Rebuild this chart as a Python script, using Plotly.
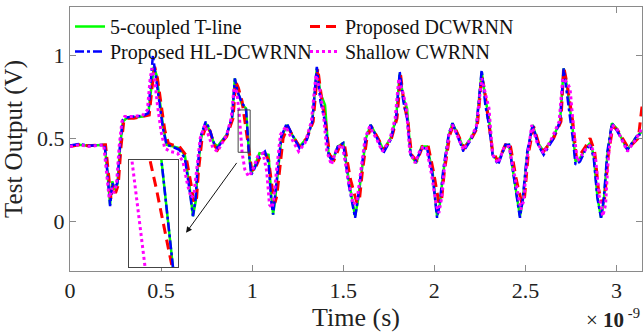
import plotly.graph_objects as go

# ---------------- data (time in ns, output in V) ----------------
green_t = [0, 0.05, 0.10, 0.15, 0.19, 0.205, 0.22, 0.232, 0.245, 0.26, 0.275, 0.29, 0.31, 0.35, 0.40, 0.43, 0.445, 0.46, 0.475, 0.49,
           0.51, 0.53, 0.56, 0.60, 0.63, 0.655, 0.675, 0.69, 0.70, 0.72, 0.745, 0.765, 0.79, 0.81, 0.83, 0.86, 0.89, 0.905, 0.92, 0.945,
           0.966, 0.983, 0.995, 1.01, 1.04, 1.09, 1.105, 1.115, 1.125, 1.14, 1.16, 1.19, 1.22, 1.26, 1.30, 1.33, 1.355, 1.375, 1.40, 1.42,
           1.44, 1.47, 1.50, 1.53, 1.565, 1.58, 1.60, 1.625, 1.65, 1.69, 1.72, 1.76, 1.79, 1.81, 1.83, 1.85, 1.87, 1.90, 1.93, 1.96,
           1.99, 2.015, 2.03, 2.05, 2.08, 2.10, 2.13, 2.16, 2.20, 2.23, 2.26, 2.28, 2.30, 2.32, 2.35, 2.39, 2.41, 2.44, 2.47, 2.485,
           2.51, 2.54, 2.57, 2.60, 2.65, 2.69, 2.71, 2.73, 2.76, 2.775, 2.80, 2.83, 2.855, 2.875, 2.895, 2.915, 2.93, 2.95, 2.975, 3.00,
           3.06, 3.11, 3.14]
green_v = [0.455, 0.46, 0.455, 0.46, 0.46, 0.30, 0.10, 0.24, 0.19, 0.22, 0.45, 0.60, 0.62, 0.625, 0.63, 0.65, 0.80, 0.93, 0.88, 0.75,
           0.58, 0.46, 0.45, 0.44, 0.40, 0.22, 0.03, 0.12, 0.30, 0.50, 0.59, 0.55, 0.47, 0.45, 0.48, 0.52, 0.62, 0.86, 0.78, 0.70,
           0.68, 0.40, 0.29, 0.32, 0.41, 0.40, 0.15, 0.04, 0.12, 0.30, 0.50, 0.58, 0.52, 0.45, 0.50, 0.60, 0.92, 0.77, 0.70, 0.40,
           0.36, 0.45, 0.47, 0.25, 0.03, 0.12, 0.30, 0.50, 0.58, 0.50, 0.43, 0.50, 0.62, 0.89, 0.74, 0.68, 0.40, 0.35, 0.45, 0.45,
           0.30, 0.03, 0.10, 0.30, 0.52, 0.59, 0.52, 0.44, 0.50, 0.56, 0.90, 0.74, 0.62, 0.40, 0.36, 0.45, 0.46, 0.25, 0.03, 0.12,
           0.40, 0.58, 0.47, 0.42, 0.50, 0.60, 0.92, 0.80, 0.55, 0.36, 0.38, 0.44, 0.47, 0.40, 0.15, 0.02, 0.12, 0.40, 0.59, 0.56,
           0.43, 0.51, 0.54]

blue_t = [0, 0.05, 0.10, 0.15, 0.19, 0.205, 0.22, 0.232, 0.245, 0.26, 0.275, 0.29, 0.31, 0.35, 0.40, 0.43, 0.445, 0.455, 0.47, 0.49,
          0.51, 0.53, 0.56, 0.60, 0.63, 0.655, 0.675, 0.69, 0.70, 0.72, 0.745, 0.765, 0.79, 0.81, 0.83, 0.86, 0.89, 0.905, 0.92, 0.945,
          0.966, 0.983, 0.995, 1.01, 1.04, 1.07, 1.09, 1.105, 1.115, 1.125, 1.14, 1.16, 1.19, 1.22, 1.26, 1.30, 1.33, 1.355, 1.375, 1.40,
          1.42, 1.44, 1.47, 1.50, 1.53, 1.565, 1.58, 1.60, 1.625, 1.65, 1.69, 1.72, 1.76, 1.79, 1.81, 1.83, 1.85, 1.87, 1.90, 1.93,
          1.96, 1.99, 2.015, 2.03, 2.05, 2.08, 2.10, 2.13, 2.16, 2.20, 2.23, 2.26, 2.28, 2.30, 2.32, 2.35, 2.39, 2.41, 2.44, 2.47,
          2.485, 2.51, 2.54, 2.57, 2.60, 2.65, 2.69, 2.71, 2.73, 2.76, 2.775, 2.80, 2.83, 2.855, 2.875, 2.895, 2.915, 2.93, 2.95, 2.975,
          3.00, 3.06, 3.11, 3.14]
blue_v = [0.455, 0.465, 0.455, 0.46, 0.46, 0.30, 0.09, 0.23, 0.20, 0.23, 0.46, 0.61, 0.625, 0.63, 0.635, 0.65, 0.85, 1.00, 0.88, 0.72,
          0.56, 0.46, 0.45, 0.43, 0.38, 0.20, 0.03, 0.14, 0.32, 0.52, 0.60, 0.56, 0.47, 0.44, 0.47, 0.52, 0.63, 0.86, 0.78, 0.71,
          0.68, 0.40, 0.28, 0.31, 0.39, 0.42, 0.35, 0.12, 0.04, 0.14, 0.32, 0.51, 0.59, 0.52, 0.44, 0.49, 0.60, 0.93, 0.72, 0.60,
          0.40, 0.36, 0.45, 0.47, 0.22, 0.02, 0.13, 0.32, 0.51, 0.58, 0.49, 0.41, 0.49, 0.62, 0.90, 0.72, 0.62, 0.40, 0.36, 0.44,
          0.44, 0.28, 0.02, 0.11, 0.32, 0.53, 0.59, 0.51, 0.42, 0.49, 0.56, 0.91, 0.70, 0.58, 0.40, 0.34, 0.46, 0.46, 0.23, 0.02,
          0.13, 0.42, 0.58, 0.46, 0.40, 0.49, 0.60, 0.92, 0.75, 0.50, 0.34, 0.36, 0.43, 0.46, 0.38, 0.14, 0.02, 0.13, 0.42, 0.59,
          0.55, 0.43, 0.51, 0.53]

red_t = [0, 0.05, 0.10, 0.15, 0.195, 0.21, 0.225, 0.235, 0.25, 0.265, 0.28, 0.295, 0.31, 0.35, 0.40, 0.435, 0.45, 0.465, 0.48, 0.50,
         0.52, 0.54, 0.56, 0.60, 0.635, 0.665, 0.68, 0.695, 0.705, 0.725, 0.75, 0.77, 0.79, 0.81, 0.83, 0.86, 0.895, 0.91, 0.925, 0.945,
         0.96, 0.975, 0.985, 0.995, 1.01, 1.04, 1.07, 1.09, 1.11, 1.125, 1.135, 1.15, 1.17, 1.195, 1.225, 1.26, 1.30, 1.335, 1.36, 1.38,
         1.40, 1.425, 1.45, 1.48, 1.505, 1.54, 1.575, 1.59, 1.605, 1.63, 1.655, 1.695, 1.725, 1.765, 1.795, 1.815, 1.835, 1.855, 1.875, 1.905,
         1.935, 1.965, 1.995, 2.025, 2.04, 2.055, 2.085, 2.105, 2.135, 2.165, 2.205, 2.235, 2.26, 2.275, 2.295, 2.32, 2.35, 2.39, 2.415, 2.45,
         2.48, 2.495, 2.515, 2.545, 2.575, 2.60, 2.655, 2.695, 2.71, 2.73, 2.76, 2.78, 2.80, 2.83, 2.855, 2.88, 2.90, 2.92, 2.935, 2.955,
         2.98, 3.005, 3.065, 3.12, 3.14]
red_v = [0.45, 0.46, 0.455, 0.46, 0.46, 0.30, 0.13, 0.22, 0.17, 0.22, 0.45, 0.60, 0.62, 0.62, 0.63, 0.64, 0.80, 0.93, 0.86, 0.70,
         0.55, 0.47, 0.46, 0.45, 0.40, 0.22, 0.11, 0.14, 0.30, 0.50, 0.58, 0.54, 0.46, 0.43, 0.47, 0.51, 0.62, 0.84, 0.80, 0.72,
         0.60, 0.47, 0.38, 0.33, 0.30, 0.38, 0.41, 0.37, 0.20, 0.11, 0.15, 0.32, 0.50, 0.57, 0.51, 0.45, 0.50, 0.60, 0.92, 0.75,
         0.62, 0.40, 0.37, 0.45, 0.47, 0.25, 0.11, 0.14, 0.30, 0.50, 0.57, 0.49, 0.43, 0.50, 0.62, 0.88, 0.70, 0.60, 0.40, 0.36,
         0.45, 0.46, 0.30, 0.11, 0.13, 0.30, 0.52, 0.58, 0.51, 0.44, 0.50, 0.56, 0.87, 0.80, 0.62, 0.42, 0.36, 0.46, 0.47, 0.25,
         0.11, 0.14, 0.40, 0.57, 0.46, 0.42, 0.50, 0.60, 0.93, 0.82, 0.60, 0.38, 0.40, 0.45, 0.50, 0.42, 0.20, 0.11, 0.14, 0.40,
         0.57, 0.55, 0.44, 0.50, 0.69]

magenta_t = [0, 0.05, 0.10, 0.15, 0.185, 0.20, 0.215, 0.23, 0.24, 0.255, 0.27, 0.285, 0.30, 0.35, 0.40, 0.425, 0.44, 0.45, 0.465, 0.48,
             0.50, 0.52, 0.55, 0.59, 0.62, 0.645, 0.665, 0.68, 0.695, 0.715, 0.74, 0.76, 0.785, 0.81, 0.83, 0.86, 0.885, 0.90, 0.915, 0.927,
             0.945, 0.96, 0.98, 1.00, 1.03, 1.06, 1.08, 1.095, 1.11, 1.12, 1.135, 1.155, 1.185, 1.215, 1.255, 1.29, 1.325, 1.35, 1.37, 1.39,
             1.41, 1.435, 1.465, 1.495, 1.525, 1.555, 1.575, 1.595, 1.62, 1.645, 1.685, 1.715, 1.755, 1.785, 1.805, 1.825, 1.845, 1.865, 1.895, 1.925,
             1.955, 1.985, 2.01, 2.025, 2.04, 2.055, 2.08, 2.10, 2.13, 2.16, 2.20, 2.23, 2.26, 2.28, 2.30, 2.32, 2.35, 2.385, 2.41, 2.445,
             2.475, 2.49, 2.51, 2.535, 2.565, 2.60, 2.645, 2.685, 2.705, 2.725, 2.745, 2.765, 2.785, 2.81, 2.835, 2.86, 2.885, 2.905, 2.925, 2.94,
             2.955, 2.975, 3.00, 3.06, 3.11, 3.14]
magenta_v = [0.45, 0.46, 0.45, 0.455, 0.46, 0.30, 0.14, 0.20, 0.17, 0.22, 0.45, 0.60, 0.63, 0.63, 0.64, 0.67, 0.86, 0.92, 0.85, 0.70,
             0.54, 0.44, 0.42, 0.41, 0.36, 0.22, 0.14, 0.16, 0.32, 0.50, 0.58, 0.52, 0.44, 0.42, 0.46, 0.52, 0.62, 0.80, 0.78, 0.67,
             0.41, 0.31, 0.27, 0.30, 0.39, 0.41, 0.30, 0.10, 0.08, 0.15, 0.32, 0.52, 0.57, 0.50, 0.42, 0.47, 0.60, 0.88, 0.80, 0.66,
             0.42, 0.34, 0.44, 0.46, 0.26, 0.10, 0.12, 0.30, 0.50, 0.57, 0.49, 0.42, 0.49, 0.62, 0.86, 0.78, 0.70, 0.42, 0.35, 0.44,
             0.45, 0.28, 0.10, 0.05, 0.14, 0.32, 0.52, 0.58, 0.51, 0.43, 0.50, 0.57, 0.86, 0.77, 0.68, 0.40, 0.35, 0.45, 0.45, 0.25,
             0.07, 0.12, 0.38, 0.58, 0.47, 0.41, 0.50, 0.60, 0.86, 0.84, 0.80, 0.55, 0.36, 0.40, 0.44, 0.46, 0.38, 0.15, 0.03, 0.10,
             0.38, 0.58, 0.56, 0.42, 0.50, 0.56]

series_names = ["5-coupled T-line", "Proposed DCWRNN", "Proposed HL-DCWRNN", "Shallow CWRNN"]
x_ticks = [0, 0.5, 1, 1.5, 2, 2.5, 3]
y_ticks = [0, 0.5, 1]
zoom_x = [0.923, 0.989]
zoom_y = [0.415, 0.67]

# ---------------- figure ----------------
FONT = "Liberation Serif"
styles = [
    dict(color="#00ff00", width=2.5, dash="solid"),
    dict(color="#ff0000", width=3, dash="10px,6px"),
    dict(color="#0000ff", width=2.5, dash="dashdot"),
    dict(color="#ff00ff", width=3, dash="dot"),
]
legend_ids = ["legend", "legend", "legend2", "legend2"]
data = [(green_t, green_v), (red_t, red_v), (blue_t, blue_v), (magenta_t, magenta_v)]

fig = go.Figure()
for (t, v), name, st, lg in zip(data, series_names, styles, legend_ids):
    fig.add_trace(go.Scatter(x=t, y=v, mode="lines", name=name, line=st, legend=lg))
for (t, v), name, st in zip(data, series_names, styles):
    fig.add_trace(go.Scatter(x=t, y=v, mode="lines", name=name, line=st,
                             xaxis="x2", yaxis="y2", showlegend=False))

axis_common = dict(showline=True, linecolor="#8a8a8a", linewidth=1, mirror="ticks",
                   ticks="inside", ticklen=6, tickcolor="#8a8a8a", showgrid=False, zeroline=False,
                   tickfont=dict(family=FONT, size=22, color="#222"))

legend_common = dict(orientation="h", xanchor="left", yanchor="top", entrywidth=190,
                     borderwidth=0, font=dict(family=FONT, size=20, color="#111"),
                     itemwidth=30)

fig.update_layout(
    width=644, height=335,
    margin=dict(l=70, r=2, t=7, b=64),
    paper_bgcolor="white", plot_bgcolor="white",
    font=dict(family=FONT, color="#222"),
    xaxis=dict(range=[0, 3.14], tickvals=x_ticks, ticktext=[f"{x:g}" for x in x_ticks],
               title=dict(text="Time (s)", font=dict(family=FONT, size=26, color="#222"), standoff=0),
               **axis_common),
    yaxis=dict(range=[-0.3, 1.29], tickvals=y_ticks, ticktext=[f"{y:g}" for y in y_ticks],
               title=dict(text="Test Output (V)", font=dict(family=FONT, size=25, color="#222"), standoff=8),
               **axis_common),
    xaxis2=dict(domain=[0.103, 0.189], anchor="y2", range=zoom_x, showline=True, mirror=True,
                linecolor="#444", linewidth=1, showticklabels=False, ticks="", showgrid=False, zeroline=False),
    yaxis2=dict(domain=[0.015, 0.42], anchor="x2", range=zoom_y, showline=True, mirror=True,
                linecolor="#444", linewidth=1, showticklabels=False, ticks="", showgrid=False, zeroline=False),
    legend=dict(x=0.0, y=1.0, bgcolor="white", **legend_common),
    legend2=dict(x=0.0, y=0.905, bgcolor="rgba(255,255,255,0)", **legend_common),
    showlegend=True,
)

fig.add_shape(type="rect", xref="x", yref="y", x0=zoom_x[0], x1=zoom_x[1], y0=zoom_y[0], y1=zoom_y[1],
              line=dict(color="#444", width=1))
fig.add_annotation(xref="x", yref="y", axref="x", ayref="y", x=0.637, y=-0.07, ax=0.921, ay=0.36,
                   text="", showarrow=True, arrowhead=2, arrowsize=1.2, arrowwidth=1, arrowcolor="#111")
fig.add_annotation(xref="paper", yref="paper", x=1.0, y=-0.18, xanchor="right", yanchor="middle",
                   text="× <b>10</b><sup> -9</sup>", showarrow=False,
                   font=dict(family=FONT, size=21, color="#222"))

fig.write_html("out.html")
